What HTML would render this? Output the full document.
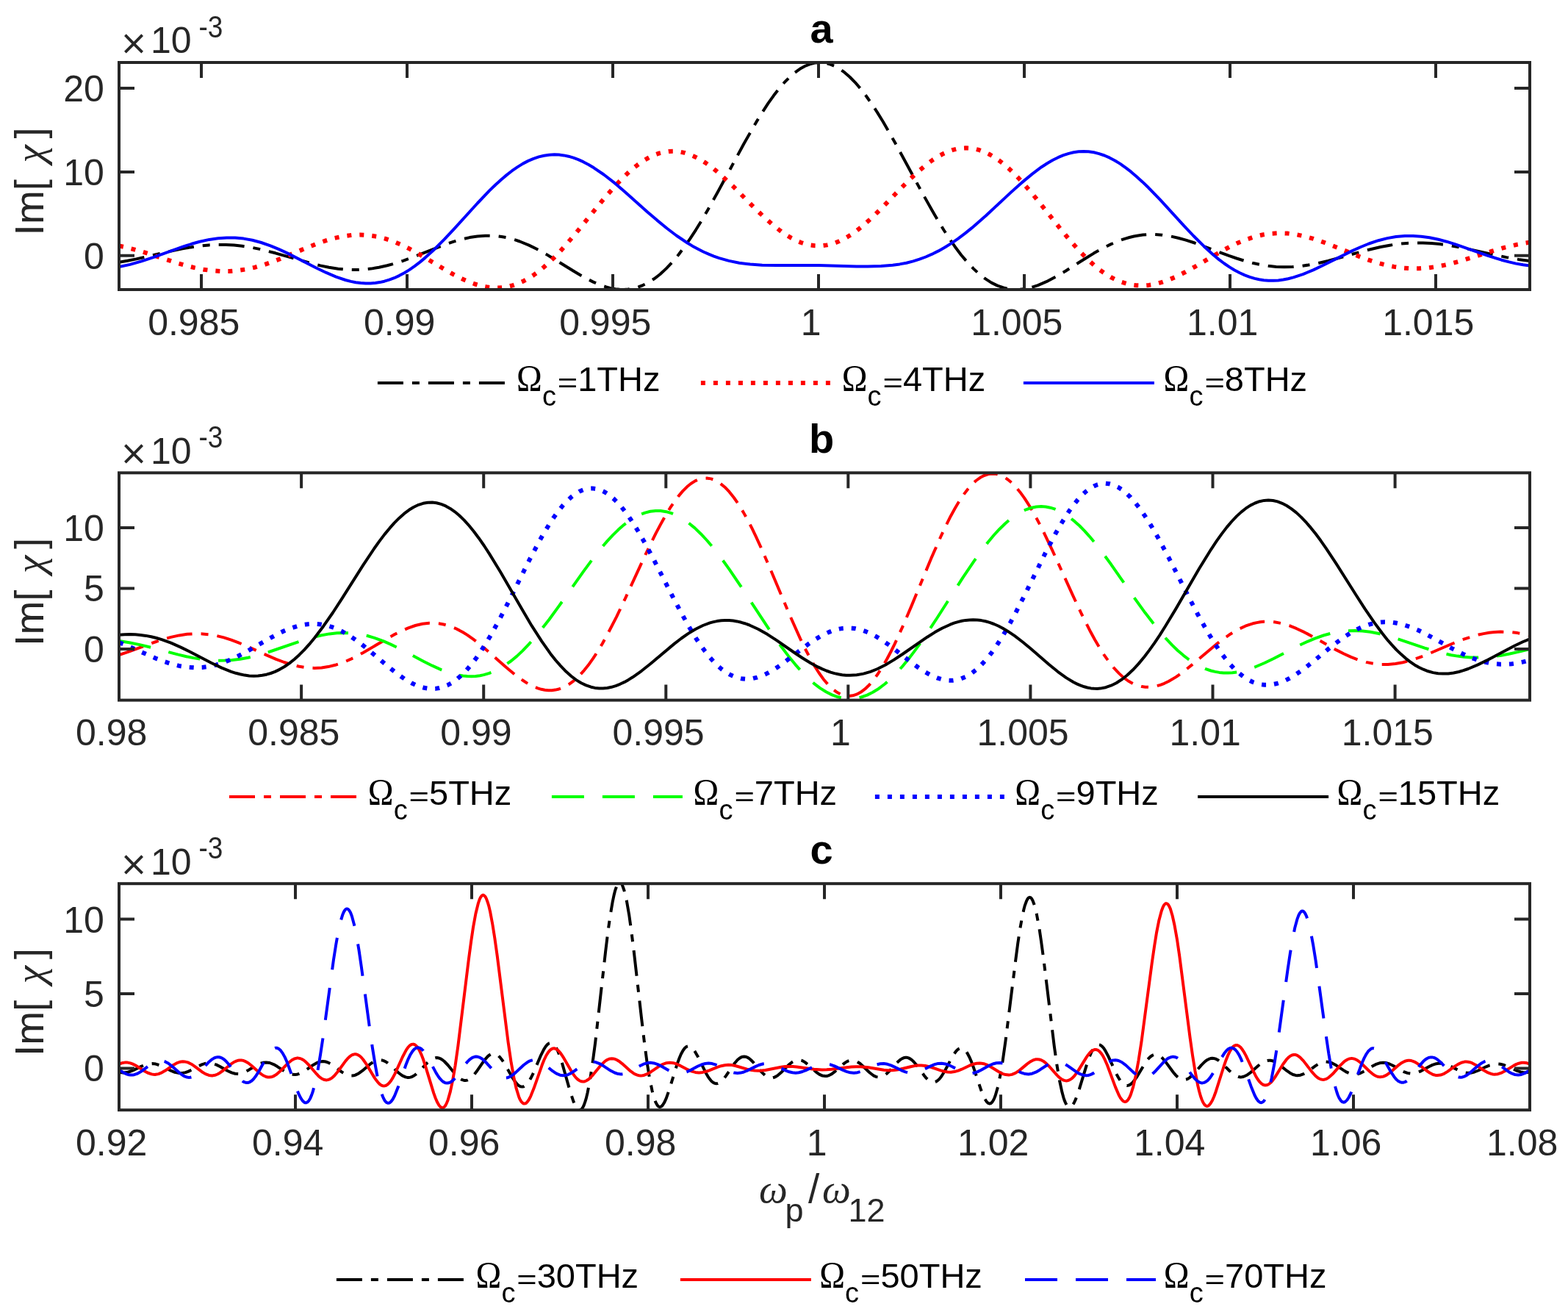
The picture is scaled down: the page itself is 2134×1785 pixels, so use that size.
<!DOCTYPE html>
<html><head><meta charset="utf-8"><style>html,body{margin:0;padding:0;background:#fff;}svg{display:block}</style></head><body>
<svg width="2134" height="1785" viewBox="0 0 2134 1785">
<rect width="100%" height="100%" fill="#fff"/>
<clipPath id="cpa"><rect x="162" y="85" width="1920" height="309"/></clipPath>
<g clip-path="url(#cpa)" fill="none" stroke-linejoin="round">
<path d="M162.0,356.7 173.5,354.8 185.5,352.4 236.4,340.8 248.4,338.4 259.5,336.4 272.4,334.5 284.4,333.4 296.0,332.9 307.5,332.9 318.5,333.5 329.6,334.7 341.1,336.5 353.1,338.9 374.7,344.3 423.7,358.4 436.1,361.4 447.7,363.8 460.2,365.7 471.7,366.8 483.2,367.1 494.2,366.7 504.8,365.6 515.8,363.8 526.9,361.3 538.4,358.1 548.5,354.8 559.1,351.0 605.6,332.8 617.6,328.7 628.2,325.7 639.2,323.1 649.8,321.5 660.4,320.7 670.4,320.8 676.7,321.2 682.5,322.0 688.7,323.1 694.9,324.6 701.2,326.4 707.4,328.5 719.9,333.6 730.9,339.0 743.4,345.9 781.4,369.3 794.3,376.9 807.3,383.6 818.8,388.4 825.0,390.4 831.3,392.1 837.5,393.2 843.3,393.8 849.1,393.9 854.8,393.6 860.6,392.7 865.9,391.4 874.0,388.5 882.2,384.5 890.3,379.3 898.5,373.0 906.7,365.4 914.8,356.8 923.5,346.5 932.1,335.0 939.3,324.6 947.0,312.8 954.7,300.3 962.8,286.4 977.7,259.7 1012.3,195.8 1029.1,166.4 1037.3,153.1 1045.4,140.6 1053.1,129.8 1060.3,120.5 1067.5,112.2 1074.7,104.9 1081.9,98.6 1088.6,93.8 1095.4,90.0 1102.1,87.3 1108.8,85.6 1115.5,85.0 1122.2,85.6 1129.0,87.2 1135.7,89.8 1142.9,93.9 1149.6,98.7 1156.8,105.0 1164.0,112.3 1171.2,120.7 1178.4,130.0 1186.1,140.9 1193.8,152.6 1201.9,165.8 1219.2,196.1 1253.8,260.0 1268.7,286.6 1276.8,300.5 1284.5,313.0 1292.2,324.8 1299.4,335.2 1308.0,346.7 1316.7,357.0 1324.9,365.6 1333.0,373.1 1341.2,379.4 1349.3,384.6 1357.5,388.6 1365.7,391.4 1370.9,392.7 1376.7,393.5 1382.5,393.9 1388.2,393.7 1394.0,393.1 1400.2,391.9 1406.5,390.2 1412.7,388.1 1424.2,383.2 1437.2,376.4 1450.2,368.7 1477.0,351.7 1488.6,344.6 1500.6,337.9 1511.6,332.4 1524.6,327.0 1530.8,324.8 1537.1,323.0 1543.3,321.5 1549.1,320.5 1555.3,319.6 1561.5,319.2 1571.6,319.0 1581.7,319.7 1592.3,321.3 1603.3,323.7 1613.9,326.6 1625.9,330.5 1672.5,347.9 1683.0,351.5 1693.1,354.7 1704.6,357.8 1715.7,360.2 1726.2,361.8 1736.8,362.9 1747.8,363.3 1759.4,363.0 1770.9,362.0 1782.9,360.2 1794.4,358.0 1807.4,355.0 1856.8,341.3 1878.9,336.0 1891.4,333.7 1902.9,332.0 1914.4,330.9 1925.5,330.4 1936.5,330.4 1948.0,331.0 1959.6,332.1 1972.1,333.8 1994.1,337.9 2034.5,346.8 2050.3,350.1 2066.6,352.9 2082.0,354.9" stroke="#000" stroke-width="4" stroke-dasharray="35 12 10 12"/>
<path d="M162.0,334.5 174.5,337.2 188.4,341.0 202.8,345.4 241.2,357.9 253.2,361.3 264.3,364.1 277.2,366.7 289.2,368.3 300.8,369.1 312.3,369.0 323.3,368.1 334.8,366.4 346.4,363.9 358.4,360.5 368.9,356.9 380.5,352.5 417.4,337.1 430.4,331.9 443.4,327.4 454.9,324.0 467.4,321.3 478.9,319.8 490.4,319.4 501.9,320.1 513.0,321.8 524.0,324.6 535.1,328.3 547.1,333.4 557.1,338.4 568.7,344.7 604.2,365.9 616.7,373.1 629.2,379.5 640.2,384.2 646.4,386.5 652.2,388.2 658.0,389.6 663.2,390.6 668.5,391.2 673.8,391.5 679.1,391.5 684.4,391.0 691.6,389.9 698.3,388.1 705.0,385.7 711.7,382.8 718.5,379.1 725.7,374.6 732.9,369.4 740.1,363.5 746.8,357.5 754.0,350.6 761.7,342.6 769.4,334.1 784.7,316.1 813.5,280.6 825.0,266.7 837.5,252.6 848.6,241.1 855.3,234.7 861.5,229.2 867.8,224.3 874.0,219.8 880.3,216.0 886.0,212.9 891.8,210.4 897.5,208.4 904.3,206.8 911.0,205.9 917.7,205.8 924.9,206.5 931.6,207.9 938.8,210.3 946.0,213.4 953.2,217.2 960.0,221.4 967.2,226.5 974.4,232.2 982.0,238.8 997.4,253.2 1026.7,282.7 1038.7,294.3 1051.7,305.9 1063.2,315.0 1070.4,319.9 1077.1,323.9 1083.8,327.4 1090.1,330.0 1096.3,332.0 1102.6,333.4 1108.8,334.3 1115.0,334.5 1120.3,334.1 1125.6,333.4 1130.9,332.2 1136.6,330.4 1141.9,328.3 1147.7,325.5 1153.4,322.3 1159.2,318.7 1165.5,314.2 1171.7,309.4 1185.1,297.7 1199.5,283.6 1227.4,254.9 1239.4,242.9 1251.9,231.4 1263.4,222.0 1270.1,217.1 1276.8,212.9 1283.6,209.2 1289.8,206.4 1296.0,204.2 1302.3,202.6 1308.5,201.6 1314.3,201.3 1320.5,201.6 1326.8,202.6 1333.0,204.2 1339.7,206.7 1346.0,209.7 1352.7,213.6 1359.4,218.2 1366.1,223.4 1372.9,229.2 1380.1,236.0 1387.3,243.5 1394.9,251.9 1410.8,270.7 1442.0,309.8 1455.0,325.6 1468.9,341.3 1481.8,354.4 1489.5,361.3 1497.2,367.5 1504.4,372.6 1511.6,377.0 1518.8,380.7 1526.0,383.7 1533.2,385.9 1540.4,387.5 1546.2,388.2 1551.9,388.5 1557.7,388.4 1563.5,387.9 1569.2,387.0 1575.5,385.6 1581.7,383.9 1588.0,381.7 1600.0,376.8 1612.9,370.3 1625.9,363.1 1661.9,342.1 1673.4,335.9 1683.5,331.0 1695.5,326.1 1707.0,322.2 1718.1,319.5 1729.1,317.8 1740.6,317.2 1752.2,317.6 1763.7,319.0 1776.2,321.7 1787.7,324.9 1800.6,329.3 1813.6,334.3 1851.1,349.5 1862.6,353.7 1873.1,357.1 1885.6,360.5 1897.2,362.9 1908.7,364.5 1920.2,365.3 1931.2,365.3 1942.8,364.5 1954.3,362.9 1966.3,360.6 1976.9,358.1 1988.9,354.8 2030.6,341.7 2047.4,336.8 2065.2,332.6 2073.8,331.0 2082.0,329.8" stroke="#f00" stroke-width="6" stroke-dasharray="6 11"/>
<path d="M162.0,363.1 176.9,359.9 192.7,355.3 208.6,350.1 248.9,335.6 260.9,331.8 271.9,328.7 284.9,325.9 296.9,324.2 308.4,323.4 320.0,323.5 331.5,324.6 343.5,326.8 355.5,330.0 368.0,334.3 379.0,338.9 391.0,344.4 429.4,364.0 443.4,370.7 457.3,376.6 470.2,381.0 477.4,382.9 484.2,384.2 490.9,385.1 497.6,385.6 504.3,385.5 510.6,385.0 516.8,384.1 523.1,382.7 529.8,380.7 536.5,378.2 543.2,375.1 550.4,371.2 557.1,367.1 564.3,362.1 571.5,356.6 578.7,350.6 591.2,339.2 605.2,325.2 618.1,311.3 649.8,276.5 666.1,259.4 674.3,251.5 682.0,244.5 689.2,238.4 696.4,232.7 704.1,227.4 711.7,222.6 718.9,218.9 726.1,215.8 733.3,213.4 740.5,211.7 747.3,210.7 754.5,210.3 760.7,210.6 767.4,211.4 773.7,212.7 780.4,214.7 787.1,217.2 793.8,220.2 801.0,224.0 808.2,228.3 821.7,237.5 836.1,248.7 851.0,261.4 881.2,288.4 894.2,299.6 908.1,311.0 920.6,320.5 935.5,330.5 942.7,334.9 949.9,338.8 957.1,342.5 964.3,345.7 971.5,348.6 978.7,351.1 992.1,354.9 1006.1,357.7 1020.9,359.6 1037.3,360.7 1056.9,361.1 1114.1,361.0 1165.9,362.4 1180.8,362.6 1199.1,362.1 1214.9,360.8 1224.5,359.4 1233.6,357.7 1242.8,355.4 1251.4,352.7 1260.0,349.5 1268.7,345.7 1277.3,341.4 1286.0,336.5 1294.6,331.1 1303.7,324.8 1313.3,317.6 1322.9,309.9 1341.7,293.5 1376.2,261.4 1390.1,248.9 1404.6,236.9 1417.5,227.2 1425.2,222.2 1432.9,217.8 1440.1,214.2 1447.3,211.2 1454.5,208.9 1461.2,207.3 1467.9,206.3 1474.6,206.0 1481.4,206.3 1488.6,207.3 1495.8,209.1 1503.0,211.5 1510.2,214.7 1517.4,218.5 1524.6,222.9 1532.3,228.3 1539.5,233.9 1547.1,240.4 1554.8,247.4 1563.0,255.3 1579.3,272.2 1611.5,307.3 1624.4,321.0 1638.4,334.9 1651.3,346.7 1659.0,353.1 1666.2,358.5 1673.4,363.4 1680.1,367.5 1687.3,371.3 1694.1,374.4 1700.8,376.9 1707.5,378.9 1713.7,380.3 1720.0,381.2 1726.2,381.7 1733.0,381.8 1739.7,381.4 1746.4,380.5 1753.1,379.2 1760.3,377.4 1773.3,373.1 1787.2,367.4 1801.1,360.8 1840.0,341.4 1852.0,336.0 1863.1,331.5 1876.0,327.2 1888.0,324.1 1900.0,322.0 1912.0,321.0 1923.1,320.9 1934.1,321.7 1945.6,323.3 1957.6,325.8 1968.7,328.7 1980.7,332.4 2024.9,347.8 2043.6,353.7 2053.7,356.4 2063.3,358.6 2072.9,360.3 2082.0,361.6" stroke="#00f" stroke-width="4"/>
</g>
<rect x="162" y="85" width="1920" height="309.0" fill="none" stroke="#262626" stroke-width="4" stroke-linejoin="miter"/>
<path d="M274.0,394 v-21 M274.0,85 v21 M554.0,394 v-21 M554.0,85 v21 M834.0,394 v-21 M834.0,85 v21 M1114.0,394 v-21 M1114.0,85 v21 M1394.0,394 v-21 M1394.0,85 v21 M1674.0,394 v-21 M1674.0,85 v21 M1954.0,394 v-21 M1954.0,85 v21 M162,347.8 h21 M2082,347.8 h-21 M162,233.9 h21 M2082,233.9 h-21 M162,120.0 h21 M2082,120.0 h-21" stroke="#262626" stroke-width="4" fill="none"/>
<text x="263.7" y="455.8" font-family="Liberation Sans, Arial, Helvetica, sans-serif" font-size="50" fill="#262626" text-anchor="middle">0.985</text>
<text x="543.7" y="455.8" font-family="Liberation Sans, Arial, Helvetica, sans-serif" font-size="50" fill="#262626" text-anchor="middle">0.99</text>
<text x="823.7" y="455.8" font-family="Liberation Sans, Arial, Helvetica, sans-serif" font-size="50" fill="#262626" text-anchor="middle">0.995</text>
<text x="1103.7" y="455.8" font-family="Liberation Sans, Arial, Helvetica, sans-serif" font-size="50" fill="#262626" text-anchor="middle">1</text>
<text x="1383.7" y="455.8" font-family="Liberation Sans, Arial, Helvetica, sans-serif" font-size="50" fill="#262626" text-anchor="middle">1.005</text>
<text x="1663.7" y="455.8" font-family="Liberation Sans, Arial, Helvetica, sans-serif" font-size="50" fill="#262626" text-anchor="middle">1.01</text>
<text x="1943.7" y="455.8" font-family="Liberation Sans, Arial, Helvetica, sans-serif" font-size="50" fill="#262626" text-anchor="middle">1.015</text>
<text x="141.8" y="365.7" font-family="Liberation Sans, Arial, Helvetica, sans-serif" font-size="50" fill="#262626" text-anchor="end">0</text>
<text x="141.8" y="251.8" font-family="Liberation Sans, Arial, Helvetica, sans-serif" font-size="50" fill="#262626" text-anchor="end">10</text>
<text x="141.8" y="137.9" font-family="Liberation Sans, Arial, Helvetica, sans-serif" font-size="50" fill="#262626" text-anchor="end">20</text>
<text x="162.7" y="73.5" font-family="DejaVu Sans, sans-serif" font-size="46" fill="#262626">×</text>
<text x="205" y="72.4" font-family="Liberation Sans, Arial, Helvetica, sans-serif" font-size="50" fill="#262626">10</text>
<text transform="translate(270.4,51.0) scale(0.86,1)" font-family="Liberation Sans, Arial, Helvetica, sans-serif" font-size="43" fill="#262626">-3</text>
<text x="1118" y="58.0" font-family="Liberation Sans, Arial, Helvetica, sans-serif" font-size="56" font-weight="bold" fill="#000" text-anchor="middle">a</text>
<g transform="translate(59,320.4) rotate(-90)" fill="#262626"><text x="0" y="0" font-family="Liberation Sans, Arial, Helvetica, sans-serif" font-size="55">Im[</text><text x="98.8" y="0" font-family="Liberation Serif, Times New Roman, serif" font-style="italic" font-size="55">χ</text><text x="131.9" y="0" font-family="Liberation Sans, Arial, Helvetica, sans-serif" font-size="55">]</text></g>
<path d="M513.9,521 h178" stroke="#000" stroke-width="4" fill="none" stroke-dasharray="35 12 10 12"/>
<text transform="translate(703.0,530.8) scale(0.935,1)" font-family="Liberation Serif, Times New Roman, serif" font-size="50" fill="#000">Ω</text>
<text x="737.9" y="552.3" font-family="Liberation Sans, Arial, Helvetica, sans-serif" font-size="38" fill="#000">c</text>
<text transform="translate(758.8,533.0) scale(1,0.8)" font-family="Liberation Sans, Arial, Helvetica, sans-serif" font-size="47" fill="#000">=</text>
<text x="786.2" y="531.8" font-family="Liberation Sans, Arial, Helvetica, sans-serif" font-size="47" fill="#000">1THz</text>
<path d="M953.9,521 h178" stroke="#f00" stroke-width="6" fill="none" stroke-dasharray="6 11"/>
<text transform="translate(1145.7,530.8) scale(0.935,1)" font-family="Liberation Serif, Times New Roman, serif" font-size="50" fill="#000">Ω</text>
<text x="1180.6" y="552.3" font-family="Liberation Sans, Arial, Helvetica, sans-serif" font-size="38" fill="#000">c</text>
<text transform="translate(1201.5,533.0) scale(1,0.8)" font-family="Liberation Sans, Arial, Helvetica, sans-serif" font-size="47" fill="#000">=</text>
<text x="1228.9" y="531.8" font-family="Liberation Sans, Arial, Helvetica, sans-serif" font-size="47" fill="#000">4THz</text>
<path d="M1392.9,521 h178" stroke="#00f" stroke-width="4" fill="none"/>
<text transform="translate(1583.6,530.8) scale(0.935,1)" font-family="Liberation Serif, Times New Roman, serif" font-size="50" fill="#000">Ω</text>
<text x="1618.5" y="552.3" font-family="Liberation Sans, Arial, Helvetica, sans-serif" font-size="38" fill="#000">c</text>
<text transform="translate(1639.4,533.0) scale(1,0.8)" font-family="Liberation Sans, Arial, Helvetica, sans-serif" font-size="47" fill="#000">=</text>
<text x="1666.8" y="531.8" font-family="Liberation Sans, Arial, Helvetica, sans-serif" font-size="47" fill="#000">8THz</text>
<clipPath id="cpb"><rect x="162" y="643.3" width="1920" height="309.30000000000007"/></clipPath>
<g clip-path="url(#cpb)" fill="none" stroke-linejoin="round">
<path d="M162.0,891.0 175.9,886.3 212.4,873.0 223.0,869.5 232.6,866.9 244.1,864.4 254.7,862.8 265.2,862.2 275.8,862.4 284.9,863.3 294.5,864.9 304.6,867.4 314.7,870.6 323.3,873.8 332.9,877.8 364.1,891.9 375.7,896.8 386.7,901.0 396.8,904.3 407.3,906.8 417.9,908.4 428.0,908.9 437.6,908.5 446.7,907.1 456.3,904.8 466.4,901.5 476.5,897.2 485.1,893.0 494.7,887.8 525.0,869.9 535.5,863.9 546.1,858.5 555.7,854.3 565.3,851.0 574.9,848.8 584.0,847.8 593.1,847.9 598.4,848.5 603.7,849.5 609.0,850.9 614.3,852.7 619.6,854.8 624.8,857.4 630.1,860.3 635.9,863.9 645.5,870.7 656.0,879.0 666.1,887.7 688.7,907.8 700.2,917.4 711.3,925.5 716.5,928.9 721.3,931.7 726.6,934.3 731.9,936.4 736.7,937.8 741.5,938.8 746.3,939.3 751.1,939.2 755.9,938.6 760.7,937.5 767.4,934.9 774.2,931.1 780.4,926.6 787.1,920.6 793.8,913.4 800.6,905.1 807.3,895.7 814.0,885.3 819.8,875.7 826.0,864.5 839.0,839.3 851.0,814.1 878.8,753.8 892.7,725.4 899.5,712.6 905.7,701.5 911.9,691.2 917.7,682.6 923.5,674.9 929.2,668.1 935.0,662.3 940.3,658.0 946.0,654.4 951.3,652.1 956.6,650.8 961.9,650.6 964.8,650.9 967.6,651.4 970.5,652.3 973.9,653.8 976.8,655.4 980.1,657.6 986.4,662.7 992.6,669.2 998.8,677.0 1005.1,686.1 1011.8,697.1 1017.1,706.6 1022.9,717.7 1029.1,730.6 1035.3,744.1 1047.3,771.6 1075.2,837.8 1089.1,868.9 1095.8,882.7 1102.6,895.5 1108.8,906.4 1114.6,915.5 1120.8,924.2 1126.6,931.0 1132.3,936.7 1138.1,941.2 1143.8,944.4 1146.7,945.5 1149.6,946.3 1152.5,946.8 1155.4,946.9 1160.6,946.3 1165.9,944.7 1171.7,941.6 1177.5,937.2 1183.2,931.7 1189.0,924.9 1194.7,917.0 1201.0,907.3 1207.2,896.5 1212.5,886.5 1217.8,875.9 1229.3,850.7 1240.3,824.9 1267.2,759.9 1280.7,729.3 1287.4,715.1 1293.6,702.7 1299.9,691.3 1305.6,681.7 1311.4,673.0 1317.2,665.5 1322.9,659.0 1328.2,654.0 1334.0,649.8 1339.3,647.0 1345.0,645.1 1350.3,644.4 1355.6,644.8 1360.9,646.3 1366.1,648.8 1371.4,652.2 1376.7,656.6 1382.5,662.5 1388.2,669.4 1394.0,677.4 1399.7,686.2 1406.0,696.6 1412.2,708.0 1419.0,721.0 1432.4,749.1 1459.8,809.4 1471.8,835.0 1484.3,859.8 1490.0,870.3 1495.8,880.2 1502.5,890.8 1509.2,900.3 1515.9,908.7 1522.7,915.9 1528.9,921.6 1535.6,926.5 1542.3,930.3 1549.1,932.9 1553.9,934.1 1558.7,934.7 1563.5,934.8 1568.8,934.4 1574.0,933.4 1579.3,931.8 1584.6,929.8 1590.4,927.0 1600.4,921.1 1611.5,913.2 1623.0,903.9 1655.2,876.7 1665.3,869.0 1674.4,862.7 1684.9,856.4 1695.0,851.7 1700.3,849.8 1705.1,848.3 1710.4,847.1 1715.2,846.3 1720.0,845.8 1724.8,845.7 1734.4,846.3 1744.5,848.2 1754.6,851.2 1764.6,855.2 1775.7,860.4 1786.7,866.3 1818.9,884.4 1829.0,889.5 1838.6,893.9 1849.1,897.9 1859.2,900.9 1869.3,902.9 1879.4,903.9 1889.0,903.9 1899.1,903.0 1909.2,901.2 1920.2,898.4 1929.8,895.2 1939.9,891.4 1975.9,876.0 1990.3,870.3 2005.2,865.4 2012.4,863.5 2019.1,862.1 2026.8,860.8 2034.5,860.0 2042.2,859.6 2049.8,859.7 2057.5,860.2 2065.2,861.1 2073.4,862.6 2082.0,864.5" stroke="#f00" stroke-width="4" stroke-dasharray="35 12 10 12"/>
<path d="M162.0,872.1 175.9,874.2 191.3,877.4 205.7,880.9 242.7,890.6 253.7,893.2 263.3,895.1 274.8,897.0 285.4,898.1 296.0,898.7 306.0,898.6 316.1,898.0 326.7,896.7 337.7,894.7 348.8,892.1 358.4,889.4 368.9,886.0 414.5,870.4 426.1,867.0 436.6,864.5 448.2,862.4 458.7,861.2 469.3,860.9 479.4,861.4 489.4,862.8 500.0,865.0 511.0,868.3 522.1,872.4 531.7,876.6 542.3,881.7 576.3,899.7 588.3,905.7 600.8,911.3 611.9,915.3 618.1,917.1 624.4,918.5 630.1,919.5 635.9,920.0 641.6,920.2 647.4,919.9 653.2,919.2 658.4,918.1 666.1,915.8 673.3,912.9 680.5,909.3 688.2,904.5 695.9,899.0 703.6,892.6 711.3,885.4 719.4,876.9 726.1,869.4 732.9,861.4 747.3,843.0 761.2,823.9 794.3,777.1 810.6,755.2 818.8,745.1 826.5,736.1 834.2,727.9 841.4,720.8 849.1,714.1 856.3,708.7 863.5,704.1 870.7,700.4 877.9,697.6 885.1,695.8 892.3,694.9 899.0,695.0 906.7,696.2 914.3,698.4 922.0,701.8 929.7,706.2 937.4,711.6 945.6,718.4 953.7,726.2 962.4,735.5 969.6,744.0 976.8,753.0 984.4,763.3 992.6,774.7 1007.5,796.6 1044.5,852.8 1054.5,867.5 1063.7,880.3 1073.3,892.9 1082.4,904.1 1091.0,913.8 1099.2,922.1 1107.8,929.8 1116.0,936.1 1124.2,941.3 1132.3,945.4 1140.5,948.3 1148.6,950.1 1156.8,950.7 1164.5,950.1 1172.2,948.5 1180.3,945.6 1188.0,941.8 1196.2,936.7 1204.3,930.5 1212.5,923.2 1220.7,915.0 1229.3,905.3 1236.5,896.5 1243.7,887.1 1251.4,876.6 1260.0,864.1 1274.9,841.5 1310.4,785.9 1328.2,759.6 1336.9,747.7 1345.0,737.2 1352.7,728.0 1360.4,719.7 1368.1,712.2 1375.3,706.0 1382.5,700.8 1389.2,696.7 1396.4,693.3 1403.1,691.0 1410.3,689.5 1417.0,689.1 1423.3,689.5 1429.5,690.7 1435.8,692.6 1442.5,695.5 1449.2,699.3 1455.9,704.0 1462.6,709.4 1469.4,715.5 1476.1,722.3 1482.8,729.8 1490.0,738.4 1497.2,747.5 1512.1,767.8 1543.8,813.3 1558.2,833.3 1573.1,852.6 1580.3,861.3 1587.0,868.9 1595.2,877.6 1602.8,885.0 1610.5,891.6 1618.2,897.5 1625.9,902.6 1633.1,906.6 1640.3,909.8 1648.0,912.5 1653.7,913.9 1659.5,914.9 1665.3,915.4 1671.5,915.5 1677.3,915.2 1683.5,914.4 1689.7,913.2 1696.5,911.5 1708.0,907.5 1720.9,902.0 1733.4,896.0 1768.5,877.9 1779.5,872.8 1789.6,868.6 1801.1,864.5 1812.2,861.5 1823.2,859.4 1833.8,858.2 1843.9,858.0 1854.4,858.5 1865.0,859.8 1876.5,862.0 1886.6,864.6 1897.6,867.8 1938.9,881.6 1956.2,886.8 1965.8,889.2 1974.9,891.2 1983.6,892.6 1992.2,893.7 2001.8,894.4 2011.9,894.5 2022.0,894.1 2032.5,893.2 2043.1,891.7 2054.6,889.5 2066.6,886.9 2082.0,883.0" stroke="#0f0" stroke-width="4" stroke-dasharray="44 25"/>
<path d="M162.0,874.0 175.4,879.6 211.5,895.5 222.5,899.7 232.1,902.9 243.6,905.9 254.2,907.6 264.7,908.4 275.3,908.0 284.4,906.8 294.0,904.6 304.1,901.4 314.2,897.3 323.3,893.0 332.9,888.0 363.7,870.3 375.2,864.0 385.7,858.8 395.8,854.7 406.4,851.4 411.7,850.2 416.9,849.4 422.2,848.9 427.0,848.7 431.8,848.9 436.6,849.4 441.4,850.2 446.2,851.3 451.0,852.8 456.3,854.7 466.4,859.5 477.0,865.7 486.1,872.0 496.2,879.8 527.9,906.5 538.9,915.4 550.4,923.6 560.5,929.5 566.3,932.2 572.0,934.3 577.3,935.8 582.6,936.7 587.9,937.1 592.7,936.9 597.9,936.0 602.8,934.7 609.5,932.0 615.7,928.5 622.0,924.0 628.7,918.1 634.9,911.8 641.6,903.9 648.4,895.0 655.1,885.2 666.6,866.5 679.6,843.1 691.6,819.8 719.9,763.0 733.8,736.7 740.5,724.8 747.3,713.7 753.5,704.2 759.3,696.2 765.5,688.3 771.3,682.0 777.5,676.2 783.3,671.8 789.0,668.4 794.8,666.0 800.6,664.7 806.3,664.4 811.6,665.1 817.4,666.8 823.1,669.5 828.9,673.3 834.6,678.0 840.4,683.7 846.2,690.2 852.4,698.2 858.2,706.4 863.9,715.3 870.2,725.6 876.4,736.5 889.4,760.6 915.3,811.4 925.9,831.5 937.4,852.2 947.5,868.8 953.7,878.1 959.5,886.1 965.2,893.4 971.0,899.9 976.8,905.7 982.5,910.7 988.3,914.8 993.6,917.9 998.4,920.2 1003.7,922.0 1008.9,923.2 1014.2,923.7 1019.5,923.6 1024.8,923.0 1030.5,921.6 1036.3,919.6 1041.1,917.6 1046.4,914.9 1052.1,911.6 1057.9,907.9 1069.4,899.6 1099.7,876.6 1109.3,870.1 1117.9,864.9 1128.0,860.1 1132.8,858.2 1137.6,856.7 1142.4,855.6 1146.7,854.9 1151.5,854.5 1155.8,854.5 1160.2,854.7 1164.5,855.3 1168.8,856.2 1173.6,857.5 1178.4,859.2 1183.2,861.2 1192.8,866.2 1201.0,871.3 1210.1,877.7 1239.4,900.5 1249.5,908.0 1259.1,914.3 1267.7,919.1 1276.4,922.7 1280.7,924.0 1285.0,925.0 1289.3,925.6 1293.2,925.8 1297.0,925.7 1300.8,925.2 1304.7,924.4 1308.0,923.4 1314.8,920.5 1321.5,916.6 1328.2,911.5 1334.9,905.2 1342.1,897.4 1348.9,888.9 1356.1,878.7 1361.8,869.8 1368.1,859.5 1374.8,847.7 1381.5,835.2 1394.0,810.7 1422.3,753.2 1436.2,726.6 1443.0,714.7 1449.2,704.4 1455.4,694.8 1461.2,686.9 1467.0,679.7 1472.2,674.0 1478.0,668.6 1483.3,664.6 1488.6,661.5 1493.9,659.3 1499.1,658.0 1504.4,657.6 1509.7,658.2 1515.5,659.8 1521.2,662.5 1527.0,666.2 1532.7,670.9 1538.5,676.5 1544.7,683.6 1551.0,691.6 1557.2,700.4 1563.5,710.0 1570.2,721.2 1576.9,733.0 1590.8,759.1 1618.7,813.9 1630.2,836.0 1642.7,858.4 1654.2,877.1 1660.9,887.0 1667.7,896.0 1673.9,903.6 1680.1,910.2 1686.4,916.0 1692.6,920.9 1698.9,924.9 1705.1,928.0 1710.4,929.9 1715.7,931.2 1720.9,931.8 1726.7,931.8 1732.0,931.2 1737.8,930.0 1743.5,928.2 1749.8,925.5 1755.0,922.8 1760.3,919.8 1772.3,911.7 1783.8,902.8 1807.4,883.4 1817.5,875.4 1828.0,867.7 1837.6,861.4 1848.7,855.4 1853.9,853.0 1859.2,851.0 1864.5,849.3 1869.8,848.0 1874.6,847.1 1879.9,846.5 1884.7,846.3 1889.5,846.4 1894.3,846.7 1899.6,847.5 1909.6,849.8 1920.7,853.5 1929.8,857.3 1940.4,862.5 1976.4,882.3 1990.8,889.7 1998.5,893.1 2005.7,896.0 2012.9,898.5 2019.6,900.4 2027.3,902.1 2034.9,903.2 2042.2,903.7 2049.8,903.7 2057.5,903.2 2065.2,902.1 2073.4,900.4 2082.0,898.1" stroke="#00f" stroke-width="6" stroke-dasharray="6 11"/>
<path d="M162.0,863.8 169.7,863.2 176.9,863.1 184.1,863.3 191.3,863.9 198.5,864.9 205.7,866.2 212.9,868.0 220.1,870.2 232.6,874.7 246.0,880.6 259.0,887.0 287.8,902.0 301.7,908.6 314.7,913.8 320.9,915.8 326.7,917.3 332.9,918.6 339.2,919.4 345.4,919.7 351.2,919.5 356.9,918.8 362.7,917.7 368.5,916.0 374.2,913.9 380.9,910.6 387.2,907.0 393.9,902.4 400.6,897.0 407.3,890.9 414.1,884.1 420.8,876.7 428.0,868.0 440.0,852.2 453.0,833.5 465.4,814.3 494.2,768.9 509.1,746.5 516.3,736.4 523.5,726.9 530.3,718.7 536.5,711.7 543.2,704.9 549.9,698.9 556.7,693.8 562.9,690.0 569.6,686.8 575.9,684.8 582.1,683.7 588.3,683.5 594.1,684.2 600.3,685.9 606.6,688.4 612.8,691.9 619.1,696.3 625.3,701.5 631.6,707.6 638.3,715.0 645.0,723.2 651.7,732.2 658.9,742.5 666.1,753.6 681.0,778.0 710.8,829.6 723.7,851.4 737.2,872.4 749.2,889.4 756.4,898.5 763.6,906.7 770.8,914.1 777.5,920.0 784.2,925.1 791.0,929.2 797.7,932.4 804.4,934.7 809.7,935.9 815.4,936.5 820.7,936.6 826.5,936.0 832.2,934.8 838.0,933.1 843.8,930.8 850.0,927.9 855.3,924.9 861.1,921.3 873.1,912.8 885.1,903.2 917.7,875.9 927.3,868.5 936.4,862.1 946.5,856.0 956.6,851.0 966.2,847.4 971.0,846.1 975.8,845.1 981.6,844.3 986.8,844.0 992.1,844.0 997.9,844.6 1003.2,845.4 1008.9,846.8 1014.7,848.5 1020.5,850.7 1032.0,856.0 1044.5,863.1 1056.9,871.2 1081.9,888.5 1092.5,895.5 1103.5,902.3 1113.1,907.4 1118.9,910.1 1124.6,912.5 1130.4,914.6 1135.7,916.1 1141.0,917.3 1146.2,918.2 1151.5,918.7 1156.8,918.8 1165.9,918.2 1175.1,916.6 1184.7,913.8 1194.3,910.0 1204.8,904.7 1216.3,897.9 1228.3,890.0 1262.0,866.7 1272.5,860.1 1282.1,854.8 1293.2,849.7 1298.4,847.7 1303.7,846.1 1309.0,844.8 1314.3,843.9 1319.6,843.4 1324.4,843.2 1330.1,843.5 1335.4,844.1 1341.2,845.3 1346.9,846.9 1352.7,849.0 1358.5,851.5 1364.7,854.7 1370.9,858.4 1381.0,865.2 1392.5,874.0 1403.1,882.8 1427.6,904.0 1439.6,913.8 1451.1,922.1 1461.2,928.2 1466.0,930.6 1470.8,932.6 1475.6,934.3 1479.9,935.5 1484.7,936.4 1489.1,936.8 1493.4,936.9 1497.7,936.6 1504.9,935.2 1512.1,932.7 1519.3,929.2 1527.0,924.2 1534.2,918.5 1541.9,911.3 1549.5,903.1 1557.7,893.3 1564.4,884.4 1571.2,874.9 1578.4,864.1 1586.0,852.0 1600.0,828.9 1632.1,773.5 1648.0,747.8 1655.7,736.2 1662.9,726.1 1669.6,717.4 1676.3,709.5 1683.0,702.4 1689.3,696.6 1695.5,691.7 1701.7,687.6 1708.0,684.5 1714.2,682.2 1720.5,680.9 1726.2,680.5 1732.5,681.0 1738.7,682.4 1745.0,684.8 1751.2,688.0 1757.4,692.1 1764.2,697.4 1770.9,703.6 1778.1,711.2 1784.3,718.4 1790.6,726.3 1797.3,735.3 1804.5,745.6 1818.4,766.6 1846.3,810.8 1857.8,828.6 1870.3,846.9 1881.3,861.8 1888.0,870.2 1894.3,877.4 1900.5,884.1 1906.8,890.1 1913.0,895.6 1918.8,900.1 1925.0,904.4 1930.8,907.7 1937.0,910.7 1943.7,913.3 1950.4,915.1 1957.2,916.2 1963.9,916.6 1971.1,916.4 1978.3,915.5 1985.5,914.0 1991.7,912.2 1998.0,910.0 2011.4,904.4 2024.9,897.8 2060.9,878.8 2071.9,873.5 2082.0,869.3" stroke="#000" stroke-width="4"/>
</g>
<rect x="162" y="643.3" width="1920" height="309.3" fill="none" stroke="#262626" stroke-width="4" stroke-linejoin="miter"/>
<path d="M162.0,952.6 v-21 M162.0,643.3 v21 M410.1,952.6 v-21 M410.1,643.3 v21 M658.2,952.6 v-21 M658.2,643.3 v21 M906.3,952.6 v-21 M906.3,643.3 v21 M1154.3,952.6 v-21 M1154.3,643.3 v21 M1402.4,952.6 v-21 M1402.4,643.3 v21 M1650.5,952.6 v-21 M1650.5,643.3 v21 M1898.6,952.6 v-21 M1898.6,643.3 v21 M162,882.9 h21 M2082,882.9 h-21 M162,800.5 h21 M2082,800.5 h-21 M162,718.1 h21 M2082,718.1 h-21" stroke="#262626" stroke-width="4" fill="none"/>
<text x="151.7" y="1014.4" font-family="Liberation Sans, Arial, Helvetica, sans-serif" font-size="50" fill="#262626" text-anchor="middle">0.98</text>
<text x="399.8" y="1014.4" font-family="Liberation Sans, Arial, Helvetica, sans-serif" font-size="50" fill="#262626" text-anchor="middle">0.985</text>
<text x="647.9" y="1014.4" font-family="Liberation Sans, Arial, Helvetica, sans-serif" font-size="50" fill="#262626" text-anchor="middle">0.99</text>
<text x="896.0" y="1014.4" font-family="Liberation Sans, Arial, Helvetica, sans-serif" font-size="50" fill="#262626" text-anchor="middle">0.995</text>
<text x="1144.0" y="1014.4" font-family="Liberation Sans, Arial, Helvetica, sans-serif" font-size="50" fill="#262626" text-anchor="middle">1</text>
<text x="1392.1" y="1014.4" font-family="Liberation Sans, Arial, Helvetica, sans-serif" font-size="50" fill="#262626" text-anchor="middle">1.005</text>
<text x="1640.2" y="1014.4" font-family="Liberation Sans, Arial, Helvetica, sans-serif" font-size="50" fill="#262626" text-anchor="middle">1.01</text>
<text x="1888.3" y="1014.4" font-family="Liberation Sans, Arial, Helvetica, sans-serif" font-size="50" fill="#262626" text-anchor="middle">1.015</text>
<text x="141.8" y="900.8" font-family="Liberation Sans, Arial, Helvetica, sans-serif" font-size="50" fill="#262626" text-anchor="end">0</text>
<text x="141.8" y="818.4" font-family="Liberation Sans, Arial, Helvetica, sans-serif" font-size="50" fill="#262626" text-anchor="end">5</text>
<text x="141.8" y="736.0" font-family="Liberation Sans, Arial, Helvetica, sans-serif" font-size="50" fill="#262626" text-anchor="end">10</text>
<text x="162.7" y="631.8" font-family="DejaVu Sans, sans-serif" font-size="46" fill="#262626">×</text>
<text x="205" y="630.7" font-family="Liberation Sans, Arial, Helvetica, sans-serif" font-size="50" fill="#262626">10</text>
<text transform="translate(270.4,609.3) scale(0.86,1)" font-family="Liberation Sans, Arial, Helvetica, sans-serif" font-size="43" fill="#262626">-3</text>
<text x="1118" y="616.3" font-family="Liberation Sans, Arial, Helvetica, sans-serif" font-size="56" font-weight="bold" fill="#000" text-anchor="middle">b</text>
<g transform="translate(59,878.9) rotate(-90)" fill="#262626"><text x="0" y="0" font-family="Liberation Sans, Arial, Helvetica, sans-serif" font-size="55">Im[</text><text x="98.8" y="0" font-family="Liberation Serif, Times New Roman, serif" font-style="italic" font-size="55">χ</text><text x="131.9" y="0" font-family="Liberation Sans, Arial, Helvetica, sans-serif" font-size="55">]</text></g>
<path d="M312.0,1084 h178" stroke="#f00" stroke-width="4" fill="none" stroke-dasharray="35 12 10 12"/>
<text transform="translate(500.8,1093.8) scale(0.935,1)" font-family="Liberation Serif, Times New Roman, serif" font-size="50" fill="#000">Ω</text>
<text x="535.7" y="1115.3" font-family="Liberation Sans, Arial, Helvetica, sans-serif" font-size="38" fill="#000">c</text>
<text transform="translate(556.6,1096.0) scale(1,0.8)" font-family="Liberation Sans, Arial, Helvetica, sans-serif" font-size="47" fill="#000">=</text>
<text x="584.0" y="1094.8" font-family="Liberation Sans, Arial, Helvetica, sans-serif" font-size="47" fill="#000">5THz</text>
<path d="M750.9,1084 h178" stroke="#0f0" stroke-width="4" fill="none" stroke-dasharray="44 25"/>
<text transform="translate(943.6,1093.8) scale(0.935,1)" font-family="Liberation Serif, Times New Roman, serif" font-size="50" fill="#000">Ω</text>
<text x="978.5" y="1115.3" font-family="Liberation Sans, Arial, Helvetica, sans-serif" font-size="38" fill="#000">c</text>
<text transform="translate(999.4,1096.0) scale(1,0.8)" font-family="Liberation Sans, Arial, Helvetica, sans-serif" font-size="47" fill="#000">=</text>
<text x="1026.8" y="1094.8" font-family="Liberation Sans, Arial, Helvetica, sans-serif" font-size="47" fill="#000">7THz</text>
<path d="M1190.9,1084 h178" stroke="#00f" stroke-width="6" fill="none" stroke-dasharray="6 11"/>
<text transform="translate(1381.3,1093.8) scale(0.935,1)" font-family="Liberation Serif, Times New Roman, serif" font-size="50" fill="#000">Ω</text>
<text x="1416.2" y="1115.3" font-family="Liberation Sans, Arial, Helvetica, sans-serif" font-size="38" fill="#000">c</text>
<text transform="translate(1437.1,1096.0) scale(1,0.8)" font-family="Liberation Sans, Arial, Helvetica, sans-serif" font-size="47" fill="#000">=</text>
<text x="1464.5" y="1094.8" font-family="Liberation Sans, Arial, Helvetica, sans-serif" font-size="47" fill="#000">9THz</text>
<path d="M1630.1,1084 h178" stroke="#000" stroke-width="4" fill="none"/>
<text transform="translate(1819.6,1093.8) scale(0.935,1)" font-family="Liberation Serif, Times New Roman, serif" font-size="50" fill="#000">Ω</text>
<text x="1854.5" y="1115.3" font-family="Liberation Sans, Arial, Helvetica, sans-serif" font-size="38" fill="#000">c</text>
<text transform="translate(1875.4,1096.0) scale(1,0.8)" font-family="Liberation Sans, Arial, Helvetica, sans-serif" font-size="47" fill="#000">=</text>
<text x="1902.8" y="1094.8" font-family="Liberation Sans, Arial, Helvetica, sans-serif" font-size="47" fill="#000">15THz</text>
<clipPath id="cpc"><rect x="162" y="1202.2" width="1920" height="308.0"/></clipPath>
<g clip-path="url(#cpc)" fill="none" stroke-linejoin="round">
<path d="M162.0,1458.7 165.4,1459.3 168.2,1459.4 171.6,1459.1 175.0,1458.5 181.2,1456.2 192.2,1450.9 197.0,1448.9 202.3,1447.5 207.1,1447.1 211.9,1447.6 217.2,1449.2 221.5,1451.1 232.6,1456.7 237.9,1458.8 243.1,1459.9 247.9,1459.9 252.3,1459.1 256.6,1457.6 260.9,1455.5 270.5,1450.3 275.3,1448.1 280.1,1446.7 284.4,1446.3 289.2,1446.9 294.5,1448.6 299.3,1451.0 309.9,1457.0 315.2,1459.4 320.0,1460.7 324.3,1460.9 329.1,1460.0 333.9,1458.2 338.2,1455.9 348.3,1449.7 353.6,1447.1 357.9,1445.8 362.2,1445.4 367.0,1446.0 372.3,1448.1 377.1,1450.8 387.2,1457.5 392.5,1460.2 397.3,1461.7 401.6,1462.0 404.0,1461.7 406.4,1461.1 411.2,1459.0 415.5,1456.4 426.1,1448.9 430.9,1446.2 435.2,1444.6 439.5,1444.0 441.9,1444.2 444.3,1444.8 446.7,1445.7 449.6,1447.1 454.4,1450.3 465.0,1458.4 470.2,1461.6 474.6,1463.2 477.0,1463.6 478.9,1463.6 481.3,1463.3 483.7,1462.6 488.5,1460.2 493.3,1456.7 503.8,1447.7 508.6,1444.5 513.0,1442.7 515.4,1442.2 517.3,1442.1 519.7,1442.4 522.1,1443.1 524.5,1444.2 527.4,1446.1 532.2,1450.0 542.3,1459.5 547.5,1463.4 551.9,1465.4 554.3,1465.9 556.2,1466.0 558.6,1465.6 561.0,1464.8 563.4,1463.5 566.3,1461.4 571.1,1457.0 581.1,1446.3 585.9,1442.2 588.3,1440.7 590.3,1439.8 592.7,1439.2 594.6,1439.1 597.0,1439.4 599.4,1440.3 601.8,1441.7 604.7,1444.0 609.5,1449.0 620.0,1461.9 624.8,1466.6 627.2,1468.3 629.2,1469.2 631.6,1469.9 633.5,1470.0 635.9,1469.6 638.3,1468.5 640.7,1466.8 643.6,1464.1 648.4,1458.1 658.9,1442.9 663.7,1437.4 666.1,1435.4 668.0,1434.3 670.0,1433.6 671.9,1433.4 673.8,1433.7 676.2,1434.8 678.6,1436.6 681.0,1439.1 683.4,1442.2 686.3,1446.6 696.9,1465.3 701.2,1471.9 703.6,1474.8 706.0,1476.9 708.4,1478.2 710.8,1478.6 712.7,1478.2 715.1,1476.8 717.5,1474.4 719.9,1471.2 722.3,1467.1 725.2,1461.4 735.7,1436.7 740.1,1427.9 742.5,1424.0 744.9,1421.1 747.3,1419.3 748.7,1418.9 749.7,1418.8 751.1,1419.2 752.1,1419.7 754.5,1421.8 756.9,1425.4 759.3,1430.2 762.2,1437.6 765.0,1446.4 775.6,1483.7 780.4,1498.4 782.8,1504.0 785.2,1508.0 786.6,1509.5 787.6,1510.1 789.0,1510.4 790.0,1510.2 791.9,1508.6 793.4,1506.4 794.8,1503.4 796.2,1499.4 797.7,1494.6 799.6,1486.7 803.0,1469.3 806.3,1447.5 810.2,1418.2 824.1,1294.8 827.4,1267.6 830.3,1246.9 833.7,1226.9 835.6,1217.8 837.0,1212.2 839.0,1206.4 840.4,1203.4 841.8,1201.6 843.3,1200.9 844.7,1201.4 846.2,1203.1 847.6,1206.0 849.5,1211.5 851.0,1217.0 852.9,1225.8 856.3,1245.4 859.1,1265.7 862.5,1292.5 873.1,1385.7 876.9,1417.7 880.7,1446.2 884.1,1467.1 887.5,1483.7 889.4,1491.2 890.8,1495.8 892.3,1499.5 894.2,1503.1 895.6,1504.9 896.6,1505.6 897.5,1505.9 898.5,1505.9 899.5,1505.6 900.4,1505.0 901.9,1503.5 904.3,1499.6 906.7,1494.3 911.0,1482.1 921.5,1448.0 924.4,1440.0 926.8,1434.3 929.7,1429.0 932.1,1425.8 934.5,1423.9 936.9,1423.3 938.8,1423.6 941.2,1425.1 943.6,1427.5 946.0,1430.9 950.4,1438.6 960.4,1459.2 963.3,1464.3 965.7,1467.8 968.1,1470.7 970.5,1472.7 972.9,1473.9 974.8,1474.3 976.8,1474.1 979.2,1473.1 981.6,1471.3 984.0,1469.0 988.3,1463.4 998.8,1447.7 1003.7,1442.0 1006.1,1440.0 1008.5,1438.5 1010.9,1437.7 1012.8,1437.5 1014.7,1437.7 1017.1,1438.6 1019.5,1440.0 1021.9,1442.0 1026.2,1446.4 1036.3,1458.4 1041.1,1462.9 1043.5,1464.6 1045.4,1465.5 1047.8,1466.2 1049.7,1466.4 1051.7,1466.3 1054.1,1465.6 1056.5,1464.4 1058.9,1462.8 1063.2,1459.1 1073.3,1448.9 1078.1,1445.0 1080.5,1443.6 1082.4,1442.7 1084.8,1442.1 1086.7,1442.0 1088.6,1442.2 1091.0,1442.8 1093.4,1443.9 1095.8,1445.4 1100.2,1448.8 1110.2,1458.1 1115.0,1461.6 1119.4,1463.6 1123.2,1464.1 1125.1,1464.0 1127.5,1463.4 1129.9,1462.3 1132.3,1460.9 1136.6,1457.6 1147.2,1448.1 1150.1,1445.9 1152.5,1444.4 1154.9,1443.3 1157.3,1442.6 1159.7,1442.4 1162.1,1442.7 1165.9,1444.1 1170.3,1446.8 1174.1,1450.2 1183.2,1459.0 1188.0,1462.8 1190.4,1464.2 1192.8,1465.1 1195.2,1465.5 1197.6,1465.5 1199.5,1465.1 1201.9,1464.1 1204.3,1462.6 1206.7,1460.7 1211.1,1456.5 1220.7,1445.9 1225.5,1441.6 1227.9,1440.1 1229.8,1439.3 1232.2,1438.8 1234.1,1438.8 1236.5,1439.4 1238.9,1440.6 1241.3,1442.4 1243.7,1444.7 1248.0,1449.8 1258.1,1463.7 1260.5,1466.6 1262.9,1469.0 1265.3,1470.8 1267.2,1471.8 1269.6,1472.4 1271.6,1472.3 1274.0,1471.5 1276.4,1469.9 1278.8,1467.6 1281.2,1464.5 1286.0,1456.8 1296.0,1437.9 1298.4,1434.0 1300.8,1430.7 1303.2,1428.1 1305.2,1426.8 1307.1,1426.0 1309.0,1426.0 1310.4,1426.4 1311.9,1427.3 1314.3,1429.7 1316.7,1433.2 1319.6,1438.7 1322.0,1444.4 1324.9,1452.2 1335.4,1483.6 1337.8,1489.7 1340.2,1494.8 1342.6,1498.6 1344.5,1500.6 1346.5,1501.5 1347.4,1501.5 1348.4,1501.1 1350.3,1499.5 1351.7,1497.3 1353.2,1494.4 1354.6,1490.7 1358.0,1479.0 1361.3,1463.0 1364.7,1443.0 1368.5,1416.3 1382.5,1304.2 1385.3,1282.9 1388.2,1263.8 1391.6,1245.3 1393.5,1236.8 1394.9,1231.6 1396.9,1226.2 1398.3,1223.3 1399.7,1221.5 1401.2,1220.8 1402.6,1221.2 1404.1,1222.7 1405.5,1225.3 1407.4,1230.3 1408.9,1235.3 1410.8,1243.5 1414.2,1261.6 1417.0,1280.5 1420.4,1305.5 1434.8,1423.4 1438.6,1450.2 1442.0,1470.0 1445.4,1485.8 1447.3,1492.8 1448.7,1497.1 1450.2,1500.6 1451.6,1503.2 1453.0,1505.0 1455.0,1506.2 1455.9,1506.3 1456.9,1506.1 1457.8,1505.5 1459.3,1504.2 1461.7,1500.5 1464.1,1495.3 1468.9,1481.7 1479.9,1445.5 1482.8,1437.5 1485.2,1431.9 1487.6,1427.3 1490.0,1424.0 1492.4,1421.9 1494.8,1421.2 1497.2,1421.6 1499.6,1423.3 1502.0,1425.9 1504.4,1429.6 1508.7,1437.8 1519.3,1460.9 1522.2,1466.3 1524.6,1470.1 1527.0,1473.1 1529.4,1475.3 1531.8,1476.6 1533.7,1477.0 1536.1,1476.6 1538.5,1475.4 1540.9,1473.4 1543.3,1470.7 1547.6,1464.5 1558.2,1446.9 1561.1,1442.8 1563.5,1439.8 1565.9,1437.5 1568.3,1435.8 1570.7,1434.9 1572.6,1434.6 1575.0,1435.0 1577.4,1436.0 1579.8,1437.6 1582.2,1439.8 1586.5,1444.9 1597.1,1459.2 1600.0,1462.6 1602.4,1465.0 1604.8,1466.9 1606.7,1468.0 1609.1,1468.8 1611.0,1469.1 1612.9,1469.0 1614.8,1468.5 1616.8,1467.6 1619.2,1466.1 1624.0,1461.8 1635.0,1449.1 1639.8,1444.4 1642.7,1442.2 1645.1,1440.9 1647.5,1440.1 1649.9,1439.8 1651.8,1440.0 1653.7,1440.4 1655.7,1441.2 1658.1,1442.6 1662.9,1446.4 1673.4,1457.0 1678.2,1461.2 1681.1,1463.1 1683.5,1464.3 1685.9,1465.1 1688.3,1465.4 1690.2,1465.3 1692.6,1464.8 1696.9,1462.8 1701.7,1459.4 1712.3,1450.0 1717.1,1446.3 1720.0,1444.6 1722.4,1443.5 1724.8,1442.9 1727.2,1442.7 1729.1,1442.8 1731.5,1443.2 1735.8,1445.0 1740.6,1448.2 1751.2,1456.7 1755.5,1459.7 1758.4,1461.3 1760.8,1462.3 1763.2,1462.9 1765.6,1463.2 1769.9,1462.7 1774.2,1461.1 1779.5,1458.0 1789.6,1450.6 1794.4,1447.5 1797.3,1446.1 1799.7,1445.2 1802.1,1444.7 1804.5,1444.4 1808.8,1444.9 1813.1,1446.4 1818.4,1449.3 1828.5,1456.1 1832.8,1458.7 1837.6,1460.7 1842.4,1461.7 1846.7,1461.4 1851.5,1460.0 1856.8,1457.4 1867.4,1450.8 1872.2,1448.2 1877.5,1446.3 1882.3,1445.7 1886.6,1446.1 1890.9,1447.5 1895.7,1449.7 1906.3,1455.9 1910.6,1458.1 1915.4,1459.9 1919.7,1460.6 1924.5,1460.4 1929.3,1459.1 1934.6,1456.8 1944.7,1451.2 1949.5,1448.9 1954.8,1447.2 1959.6,1446.6 1963.9,1446.9 1968.7,1448.2 1973.5,1450.3 1987.4,1457.3 1992.2,1459.0 1996.5,1459.7 2001.3,1459.7 2006.6,1458.5 2011.9,1456.5 2022.5,1451.3 2027.3,1449.3 2032.1,1447.9 2036.9,1447.3 2041.7,1447.7 2047.0,1449.0 2051.8,1450.9 2063.3,1456.3 2069.5,1458.4 2072.9,1459.0 2075.8,1459.2 2078.6,1459.1 2082.0,1458.6" stroke="#000" stroke-width="4" stroke-dasharray="35 12 10 12"/>
<path d="M162.0,1447.7 165.8,1446.3 169.7,1445.6 173.5,1445.6 177.4,1446.4 180.7,1447.6 184.1,1449.3 196.1,1456.9 200.9,1459.5 206.2,1461.4 208.6,1461.8 211.0,1461.9 213.4,1461.6 215.8,1461.1 220.6,1459.1 225.4,1456.3 235.9,1449.0 241.2,1446.1 244.1,1445.0 246.5,1444.5 248.9,1444.2 251.3,1444.4 255.6,1445.4 260.4,1447.7 264.7,1450.6 274.8,1458.2 279.6,1461.1 284.4,1462.9 288.8,1463.4 291.2,1463.1 293.6,1462.5 296.0,1461.5 298.8,1459.9 303.6,1456.5 313.7,1448.2 319.0,1444.7 321.4,1443.6 323.8,1442.8 326.2,1442.5 328.6,1442.5 331.0,1442.9 333.4,1443.8 338.2,1446.5 342.5,1450.0 352.6,1459.1 357.9,1463.0 362.2,1465.0 364.6,1465.5 366.5,1465.6 368.9,1465.3 371.3,1464.6 373.7,1463.4 376.6,1461.5 381.4,1457.3 392.0,1446.5 397.3,1442.3 399.7,1440.9 401.6,1440.2 404.0,1439.6 405.9,1439.6 408.3,1440.0 410.7,1440.9 413.1,1442.3 416.0,1444.6 420.8,1449.5 430.9,1461.2 433.7,1464.2 436.1,1466.2 438.5,1467.8 440.5,1468.7 442.9,1469.3 444.8,1469.4 447.2,1468.9 449.6,1467.9 452.0,1466.3 454.9,1463.7 459.7,1458.0 470.2,1443.6 473.1,1440.2 475.5,1437.9 477.9,1436.0 479.8,1435.0 482.2,1434.3 484.2,1434.3 486.6,1434.9 489.0,1436.2 491.4,1438.2 494.2,1441.5 499.0,1448.4 509.6,1466.1 512.0,1469.6 514.4,1472.6 516.8,1475.0 518.7,1476.3 521.1,1477.3 523.1,1477.4 525.0,1477.0 527.4,1475.6 529.8,1473.3 532.2,1470.2 534.6,1466.4 537.5,1460.9 548.0,1437.7 552.8,1428.6 555.2,1425.1 557.6,1422.5 560.0,1421.0 562.4,1420.6 563.9,1421.0 565.3,1421.8 567.7,1424.2 570.6,1428.6 573.5,1434.8 575.9,1441.0 578.7,1449.5 590.3,1487.3 592.7,1494.0 595.1,1499.6 597.5,1503.8 599.4,1506.0 601.3,1507.1 602.3,1507.2 603.2,1507.0 605.2,1505.5 606.6,1503.5 608.0,1500.6 609.5,1497.0 612.8,1485.4 616.2,1469.4 619.6,1449.6 623.4,1422.8 637.8,1305.7 641.2,1280.6 644.0,1261.6 647.4,1243.0 650.8,1229.2 652.7,1223.6 654.1,1220.7 656.0,1218.3 657.5,1217.7 658.9,1218.3 660.4,1219.8 661.8,1222.4 663.7,1227.5 665.2,1232.4 667.1,1240.4 670.4,1258.0 673.3,1276.2 676.7,1300.4 691.6,1417.9 695.4,1443.9 699.3,1465.7 702.6,1480.7 706.0,1491.7 707.4,1495.2 709.3,1498.6 711.3,1500.7 713.2,1501.6 715.1,1501.3 716.1,1500.7 717.5,1499.4 719.9,1496.0 722.3,1491.3 726.6,1480.6 737.7,1449.1 740.5,1442.0 743.4,1436.0 746.3,1431.4 748.7,1428.7 751.1,1427.0 752.5,1426.4 754.0,1426.3 755.9,1426.7 758.3,1428.0 760.7,1430.2 763.1,1433.1 767.4,1439.7 778.0,1458.1 780.9,1462.5 783.3,1465.6 786.2,1468.5 788.6,1470.2 791.0,1471.3 793.4,1471.6 795.3,1471.4 797.7,1470.5 800.1,1469.1 802.5,1467.2 807.3,1462.1 817.8,1449.3 823.1,1444.1 825.5,1442.4 827.9,1441.2 830.3,1440.4 832.7,1440.2 835.1,1440.4 837.5,1441.1 839.9,1442.2 842.3,1443.7 846.7,1447.1 857.2,1456.6 862.5,1460.4 864.9,1461.7 867.3,1462.6 869.7,1463.2 872.1,1463.4 874.5,1463.2 876.9,1462.7 881.7,1460.8 886.0,1458.2 897.1,1450.7 902.3,1447.8 907.1,1446.2 911.5,1445.7 916.3,1446.2 921.1,1447.7 925.9,1449.9 936.4,1455.4 941.7,1457.6 946.5,1458.9 951.3,1459.4 956.1,1458.9 960.9,1457.8 965.2,1456.3 976.3,1451.8 981.6,1450.2 986.4,1449.2 991.2,1448.8 996.0,1449.1 1000.8,1450.0 1016.6,1454.6 1021.9,1455.8 1027.2,1456.6 1032.0,1456.8 1036.8,1456.6 1041.6,1456.0 1063.2,1451.7 1068.5,1451.1 1073.7,1450.9 1079.0,1451.0 1084.3,1451.5 1107.8,1454.8 1118.9,1455.4 1125.1,1455.3 1131.8,1454.8 1158.7,1451.6 1165.0,1451.3 1171.2,1451.3 1181.8,1452.3 1202.9,1455.8 1208.2,1456.2 1213.5,1456.3 1218.7,1455.8 1224.0,1455.0 1239.4,1451.2 1244.7,1450.1 1249.5,1449.6 1253.8,1449.5 1259.1,1449.9 1264.4,1451.1 1280.2,1456.4 1285.0,1457.7 1289.8,1458.5 1294.1,1458.7 1298.9,1458.1 1304.2,1456.6 1309.0,1454.7 1320.0,1449.5 1324.9,1447.7 1329.2,1446.7 1333.5,1446.4 1335.9,1446.7 1338.8,1447.2 1344.1,1449.2 1348.9,1451.8 1359.4,1458.3 1364.2,1460.8 1368.5,1462.1 1372.9,1462.6 1377.2,1461.9 1382.0,1459.9 1387.3,1456.4 1397.8,1447.6 1402.6,1444.2 1405.0,1442.9 1407.4,1441.9 1409.8,1441.3 1412.2,1441.2 1414.6,1441.5 1417.5,1442.4 1419.9,1443.7 1422.8,1445.9 1428.1,1451.0 1438.6,1462.9 1441.5,1465.7 1443.9,1467.6 1446.3,1469.1 1448.2,1469.9 1450.2,1470.3 1452.1,1470.4 1454.5,1469.8 1457.4,1468.3 1459.8,1466.4 1462.6,1463.3 1467.9,1455.9 1478.5,1438.6 1480.9,1435.2 1483.3,1432.3 1485.7,1430.0 1487.6,1428.8 1489.5,1428.1 1491.5,1428.0 1493.9,1428.7 1496.3,1430.4 1498.7,1433.1 1501.1,1436.7 1503.9,1442.2 1506.8,1448.8 1517.9,1478.6 1522.7,1489.8 1525.1,1494.1 1527.5,1497.1 1528.9,1498.3 1529.9,1498.8 1531.3,1499.0 1532.3,1498.8 1534.2,1497.5 1535.6,1495.8 1537.5,1492.4 1539.0,1489.0 1542.3,1478.3 1545.7,1463.8 1549.5,1442.8 1553.4,1417.9 1567.8,1309.7 1571.2,1286.5 1574.0,1269.0 1577.4,1251.9 1580.8,1239.2 1582.7,1234.2 1584.1,1231.5 1585.6,1229.8 1587.0,1229.1 1588.4,1229.4 1589.9,1230.8 1591.3,1233.1 1592.8,1236.4 1595.6,1245.8 1598.5,1258.8 1601.9,1277.8 1605.2,1300.2 1619.6,1411.8 1623.0,1435.7 1626.4,1456.8 1630.2,1476.8 1632.1,1484.8 1634.0,1491.5 1635.5,1495.7 1637.4,1500.0 1639.3,1502.9 1641.2,1504.5 1642.2,1504.9 1643.2,1504.9 1644.1,1504.6 1645.6,1503.6 1647.5,1501.3 1649.9,1497.2 1652.3,1491.7 1654.7,1485.2 1665.7,1450.5 1668.6,1442.2 1671.0,1436.2 1673.9,1430.1 1676.8,1425.7 1678.2,1424.1 1679.7,1422.9 1682.1,1421.9 1684.0,1422.0 1686.4,1423.2 1688.3,1424.8 1690.7,1427.8 1693.1,1431.5 1695.5,1435.9 1706.1,1458.2 1708.9,1463.7 1711.3,1467.8 1714.2,1471.7 1716.6,1474.1 1719.5,1476.0 1721.9,1476.5 1723.8,1476.3 1725.8,1475.6 1727.7,1474.4 1730.1,1472.2 1732.5,1469.4 1734.9,1466.1 1745.9,1448.3 1750.7,1441.7 1753.6,1438.6 1756.0,1436.7 1758.4,1435.5 1760.8,1435.0 1762.7,1435.0 1765.1,1435.7 1767.0,1436.8 1769.4,1438.6 1774.2,1443.6 1785.3,1458.1 1790.1,1463.5 1793.0,1466.0 1795.4,1467.5 1797.8,1468.5 1800.2,1468.9 1802.1,1468.7 1804.5,1468.1 1806.4,1467.2 1808.8,1465.6 1813.6,1461.3 1824.2,1449.4 1829.0,1444.7 1831.4,1442.9 1833.8,1441.5 1836.2,1440.5 1838.6,1440.1 1840.5,1440.1 1842.9,1440.5 1845.3,1441.4 1847.7,1442.7 1852.5,1446.5 1863.5,1457.3 1868.3,1461.3 1871.2,1463.2 1873.6,1464.3 1876.0,1465.0 1878.4,1465.2 1880.3,1465.1 1882.8,1464.6 1887.1,1462.6 1891.9,1459.2 1902.4,1449.9 1906.8,1446.6 1911.6,1444.0 1914.0,1443.2 1916.4,1442.8 1918.3,1442.8 1920.7,1443.1 1923.1,1443.8 1925.5,1444.8 1930.8,1448.1 1941.3,1456.5 1946.1,1459.8 1949.0,1461.3 1951.4,1462.3 1953.8,1462.9 1956.2,1463.1 1960.5,1462.6 1965.3,1460.8 1970.1,1457.9 1979.7,1450.9 1984.1,1448.1 1988.9,1445.7 1993.2,1444.6 1995.6,1444.5 1998.0,1444.7 2000.4,1445.2 2003.3,1446.2 2008.5,1448.9 2019.1,1456.0 2023.9,1458.8 2029.2,1460.9 2031.6,1461.5 2034.0,1461.7 2036.4,1461.6 2038.8,1461.2 2044.1,1459.3 2048.9,1456.7 2060.4,1449.6 2063.8,1447.9 2067.1,1446.7 2071.0,1445.8 2074.3,1445.7 2078.2,1446.3 2082.0,1447.5" stroke="#f00" stroke-width="4"/>
<path d="M162.0,1455.5 168.2,1459.4 173.0,1461.6 175.4,1462.2 177.8,1462.5 180.2,1462.5 182.6,1462.2 186.5,1460.9 190.8,1458.6 195.1,1455.6 204.7,1448.2 209.5,1445.2 212.4,1443.9 214.8,1443.2 217.2,1442.9 219.6,1442.9 222.0,1443.3 224.4,1444.2 229.2,1446.8 234.0,1450.6 244.1,1459.6 249.4,1463.4 251.8,1464.6 254.2,1465.5 256.6,1465.9 259.0,1465.8 261.4,1465.2 263.8,1464.3 266.2,1462.8 268.6,1461.0 273.4,1456.5 283.5,1445.6 288.8,1441.1 291.2,1439.6 293.6,1438.6 296.0,1438.2 297.9,1438.2 300.3,1438.8 302.7,1439.9 305.1,1441.5 308.0,1444.2 312.8,1449.8 323.3,1464.1 328.1,1469.3 330.5,1471.2 332.9,1472.4 335.3,1473.0 337.2,1473.0 339.6,1472.3 342.5,1470.5 344.9,1468.2 347.8,1464.6 352.6,1457.0 363.2,1437.7 365.6,1434.0 368.0,1430.7 370.4,1428.2 372.3,1426.8 374.7,1425.8 376.6,1425.8 378.1,1426.2 379.5,1427.0 381.9,1429.1 384.8,1433.1 387.7,1438.4 390.1,1443.8 392.9,1451.1 404.0,1482.2 406.9,1489.2 409.3,1493.9 411.7,1497.5 414.1,1499.7 415.5,1500.3 416.5,1500.3 418.4,1499.5 420.3,1497.6 422.2,1494.4 424.1,1489.9 425.6,1485.7 428.9,1473.2 432.8,1454.5 436.1,1434.6 439.5,1412.1 453.9,1306.3 457.3,1284.7 460.6,1266.3 463.5,1253.6 466.4,1244.2 467.8,1240.9 469.3,1238.4 470.7,1236.9 472.2,1236.4 473.6,1236.8 475.5,1238.9 477.0,1241.5 478.9,1246.5 482.2,1258.8 485.6,1275.5 488.5,1292.6 491.8,1315.2 502.9,1397.4 506.7,1424.4 510.6,1448.4 513.9,1466.3 517.3,1480.7 520.6,1491.2 522.1,1494.5 524.0,1497.9 525.9,1499.9 527.9,1500.8 529.8,1500.5 530.7,1500.0 532.2,1498.7 534.6,1495.5 537.0,1491.0 541.8,1479.1 552.8,1447.7 555.7,1440.6 558.6,1434.7 561.5,1430.1 563.9,1427.4 566.3,1425.8 568.7,1425.2 571.1,1425.7 573.5,1427.1 575.9,1429.4 578.3,1432.5 582.6,1439.5 593.6,1459.9 596.5,1464.5 598.9,1467.7 601.3,1470.2 603.7,1472.1 606.1,1473.3 608.5,1473.6 610.9,1473.3 613.3,1472.2 615.7,1470.5 618.1,1468.2 622.4,1463.0 633.5,1447.7 636.4,1444.3 638.8,1441.9 641.2,1440.0 643.6,1438.6 646.0,1437.8 647.9,1437.5 650.3,1437.8 652.7,1438.6 655.1,1439.9 657.5,1441.7 662.3,1446.3 673.3,1458.6 678.6,1463.2 681.0,1464.7 683.4,1465.8 685.8,1466.4 687.7,1466.5 690.1,1466.3 692.5,1465.5 694.9,1464.4 697.3,1462.9 702.1,1458.9 712.7,1449.0 718.0,1445.1 720.4,1443.7 722.8,1442.8 725.2,1442.3 727.1,1442.1 729.5,1442.4 731.9,1443.0 736.7,1445.2 741.5,1448.6 752.1,1457.2 757.3,1460.7 762.2,1462.7 766.5,1463.3 768.9,1463.1 771.3,1462.6 773.7,1461.8 776.6,1460.4 781.4,1457.3 791.9,1449.7 797.2,1446.6 801.5,1445.1 805.8,1444.5 808.2,1444.6 810.6,1445.1 815.9,1447.1 820.7,1449.8 831.3,1456.8 836.6,1459.5 841.4,1461.1 845.7,1461.6 850.5,1460.9 855.8,1459.0 860.6,1456.5 870.7,1450.3 875.9,1447.7 880.7,1446.3 885.1,1445.8 889.9,1446.4 895.1,1448.1 899.9,1450.5 910.5,1456.5 915.8,1458.9 920.1,1460.1 924.4,1460.5 929.2,1460.0 934.5,1458.4 939.3,1456.2 949.9,1450.5 955.2,1448.3 960.0,1447.0 964.3,1446.6 969.1,1447.1 974.4,1448.7 979.2,1450.9 989.7,1456.3 995.0,1458.5 999.3,1459.6 1003.7,1459.9 1008.0,1459.6 1012.3,1458.5 1017.6,1456.3 1028.1,1451.1 1032.9,1449.0 1038.2,1447.5 1043.0,1447.0 1047.8,1447.5 1053.1,1448.9 1057.9,1450.9 1068.9,1456.3 1074.2,1458.3 1078.5,1459.3 1082.9,1459.7 1087.2,1459.3 1092.0,1458.0 1096.8,1456.1 1110.7,1449.6 1115.0,1448.2 1119.4,1447.3 1124.6,1447.3 1129.9,1448.3 1135.7,1450.4 1147.2,1455.9 1152.0,1457.8 1157.3,1459.3 1162.1,1459.7 1166.9,1459.2 1172.2,1457.7 1177.0,1455.6 1188.0,1450.3 1193.3,1448.3 1198.1,1447.3 1202.9,1447.1 1207.7,1447.8 1212.5,1449.4 1216.8,1451.3 1226.9,1456.3 1232.2,1458.4 1237.5,1459.7 1242.3,1459.9 1247.1,1459.2 1251.9,1457.6 1256.2,1455.7 1266.8,1450.3 1272.0,1448.1 1276.8,1446.9 1281.6,1446.7 1286.4,1447.4 1291.2,1449.0 1296.0,1451.2 1306.1,1456.6 1311.4,1458.9 1316.2,1460.2 1321.0,1460.5 1325.8,1459.7 1330.6,1458.1 1335.4,1455.8 1346.0,1449.8 1351.3,1447.5 1356.1,1446.2 1360.4,1445.9 1365.2,1446.6 1370.5,1448.6 1375.3,1451.1 1385.3,1457.2 1390.6,1459.7 1395.4,1461.1 1399.7,1461.5 1404.6,1460.7 1409.8,1458.7 1414.6,1455.9 1425.2,1449.0 1430.0,1446.5 1434.8,1445.0 1439.1,1444.6 1441.5,1444.8 1443.9,1445.4 1449.2,1447.6 1454.0,1450.6 1464.6,1458.2 1469.8,1461.2 1474.2,1462.7 1478.5,1463.2 1480.9,1463.0 1483.3,1462.4 1485.7,1461.4 1488.6,1459.9 1493.4,1456.6 1504.4,1447.7 1509.2,1444.6 1513.5,1442.8 1515.9,1442.4 1517.9,1442.3 1519.8,1442.5 1522.2,1443.0 1526.5,1445.0 1531.8,1448.9 1542.8,1459.1 1547.1,1462.6 1550.0,1464.4 1552.4,1465.5 1554.8,1466.2 1557.2,1466.4 1559.6,1466.1 1562.5,1465.1 1564.9,1463.8 1567.8,1461.7 1572.6,1457.2 1583.6,1445.1 1588.4,1440.8 1590.8,1439.3 1592.8,1438.5 1595.2,1437.8 1597.1,1437.8 1599.5,1438.2 1602.4,1439.4 1604.8,1441.1 1607.6,1443.7 1612.4,1449.4 1623.0,1463.9 1625.9,1467.3 1628.3,1469.7 1630.7,1471.5 1632.6,1472.6 1634.5,1473.2 1636.4,1473.4 1638.8,1472.9 1641.2,1471.7 1643.7,1469.8 1646.1,1467.2 1648.5,1463.9 1651.3,1459.4 1661.9,1440.0 1666.7,1432.4 1669.1,1429.4 1671.5,1427.2 1673.9,1425.9 1676.3,1425.6 1678.7,1426.3 1681.1,1428.0 1683.5,1430.8 1686.4,1435.4 1689.3,1441.4 1692.1,1448.4 1702.7,1478.2 1707.5,1490.0 1709.9,1494.5 1712.3,1497.9 1714.7,1499.8 1716.1,1500.2 1717.1,1500.1 1719.0,1499.1 1720.5,1497.5 1722.4,1494.4 1723.8,1491.3 1727.2,1481.1 1730.6,1467.2 1734.4,1447.1 1738.2,1423.1 1752.6,1318.7 1756.0,1296.3 1758.9,1279.3 1762.2,1262.6 1765.6,1250.1 1767.5,1245.0 1769.0,1242.3 1770.9,1240.0 1772.3,1239.5 1773.8,1239.8 1775.2,1241.1 1776.6,1243.4 1778.1,1246.6 1781.0,1255.5 1783.8,1267.8 1787.2,1285.7 1790.6,1306.7 1805.0,1411.0 1808.3,1433.3 1811.7,1453.1 1815.5,1471.9 1817.5,1479.5 1819.4,1486.0 1820.8,1490.0 1822.7,1494.2 1824.7,1497.2 1826.6,1499.0 1828.5,1499.7 1829.5,1499.6 1830.9,1498.9 1833.3,1496.6 1835.7,1493.0 1838.1,1488.2 1840.5,1482.5 1851.5,1451.8 1854.4,1444.5 1856.8,1439.1 1859.7,1433.8 1862.6,1429.7 1865.5,1427.2 1867.9,1426.2 1869.8,1426.2 1872.2,1427.0 1874.1,1428.3 1876.5,1430.7 1878.9,1433.8 1881.3,1437.5 1892.4,1457.3 1897.2,1464.7 1900.0,1468.2 1902.4,1470.4 1905.3,1472.1 1907.7,1472.7 1909.6,1472.7 1912.0,1472.1 1914.0,1471.1 1916.4,1469.3 1918.8,1467.0 1921.6,1463.7 1932.2,1449.6 1937.0,1444.1 1939.9,1441.5 1942.3,1440.0 1944.7,1438.9 1947.1,1438.4 1949.0,1438.4 1951.4,1438.9 1953.8,1439.9 1956.2,1441.4 1961.0,1445.5 1971.6,1456.7 1975.9,1460.7 1978.3,1462.5 1980.7,1464.0 1983.1,1465.0 1985.5,1465.6 1987.9,1465.7 1990.3,1465.4 1992.7,1464.6 1995.1,1463.5 2000.4,1459.8 2010.9,1450.5 2015.7,1446.8 2020.5,1444.2 2022.9,1443.4 2025.3,1443.0 2027.7,1443.0 2030.1,1443.4 2032.5,1444.1 2035.4,1445.4 2040.2,1448.4 2049.8,1455.7 2053.7,1458.4 2058.0,1460.7 2061.8,1462.0 2066.2,1462.4 2068.6,1462.2 2071.0,1461.7 2075.8,1459.8 2082.0,1456.0" stroke="#00f" stroke-width="4" stroke-dasharray="44 25"/>
</g>
<rect x="162" y="1202.2" width="1920" height="308.0" fill="none" stroke="#262626" stroke-width="4" stroke-linejoin="miter"/>
<path d="M162.0,1510.2 v-21 M162.0,1202.2 v21 M402.0,1510.2 v-21 M402.0,1202.2 v21 M642.0,1510.2 v-21 M642.0,1202.2 v21 M882.0,1510.2 v-21 M882.0,1202.2 v21 M1122.0,1510.2 v-21 M1122.0,1202.2 v21 M1362.0,1510.2 v-21 M1362.0,1202.2 v21 M1602.0,1510.2 v-21 M1602.0,1202.2 v21 M1842.0,1510.2 v-21 M1842.0,1202.2 v21 M2082.0,1510.2 v-21 M2082.0,1202.2 v21 M162,1453.4 h21 M2082,1453.4 h-21 M162,1352.0 h21 M2082,1352.0 h-21 M162,1250.6 h21 M2082,1250.6 h-21" stroke="#262626" stroke-width="4" fill="none"/>
<text x="151.7" y="1572.0" font-family="Liberation Sans, Arial, Helvetica, sans-serif" font-size="50" fill="#262626" text-anchor="middle">0.92</text>
<text x="391.7" y="1572.0" font-family="Liberation Sans, Arial, Helvetica, sans-serif" font-size="50" fill="#262626" text-anchor="middle">0.94</text>
<text x="631.7" y="1572.0" font-family="Liberation Sans, Arial, Helvetica, sans-serif" font-size="50" fill="#262626" text-anchor="middle">0.96</text>
<text x="871.7" y="1572.0" font-family="Liberation Sans, Arial, Helvetica, sans-serif" font-size="50" fill="#262626" text-anchor="middle">0.98</text>
<text x="1111.7" y="1572.0" font-family="Liberation Sans, Arial, Helvetica, sans-serif" font-size="50" fill="#262626" text-anchor="middle">1</text>
<text x="1351.7" y="1572.0" font-family="Liberation Sans, Arial, Helvetica, sans-serif" font-size="50" fill="#262626" text-anchor="middle">1.02</text>
<text x="1591.7" y="1572.0" font-family="Liberation Sans, Arial, Helvetica, sans-serif" font-size="50" fill="#262626" text-anchor="middle">1.04</text>
<text x="1831.7" y="1572.0" font-family="Liberation Sans, Arial, Helvetica, sans-serif" font-size="50" fill="#262626" text-anchor="middle">1.06</text>
<text x="2071.7" y="1572.0" font-family="Liberation Sans, Arial, Helvetica, sans-serif" font-size="50" fill="#262626" text-anchor="middle">1.08</text>
<text x="141.8" y="1471.3" font-family="Liberation Sans, Arial, Helvetica, sans-serif" font-size="50" fill="#262626" text-anchor="end">0</text>
<text x="141.8" y="1369.9" font-family="Liberation Sans, Arial, Helvetica, sans-serif" font-size="50" fill="#262626" text-anchor="end">5</text>
<text x="141.8" y="1268.5" font-family="Liberation Sans, Arial, Helvetica, sans-serif" font-size="50" fill="#262626" text-anchor="end">10</text>
<text x="162.7" y="1190.7" font-family="DejaVu Sans, sans-serif" font-size="46" fill="#262626">×</text>
<text x="205" y="1189.6" font-family="Liberation Sans, Arial, Helvetica, sans-serif" font-size="50" fill="#262626">10</text>
<text transform="translate(270.4,1168.2) scale(0.86,1)" font-family="Liberation Sans, Arial, Helvetica, sans-serif" font-size="43" fill="#262626">-3</text>
<text x="1118" y="1175.2" font-family="Liberation Sans, Arial, Helvetica, sans-serif" font-size="56" font-weight="bold" fill="#000" text-anchor="middle">c</text>
<g transform="translate(59,1437.1) rotate(-90)" fill="#262626"><text x="0" y="0" font-family="Liberation Sans, Arial, Helvetica, sans-serif" font-size="55">Im[</text><text x="98.8" y="0" font-family="Liberation Serif, Times New Roman, serif" font-style="italic" font-size="55">χ</text><text x="131.9" y="0" font-family="Liberation Sans, Arial, Helvetica, sans-serif" font-size="55">]</text></g>
<path d="M457.9,1741 h178" stroke="#000" stroke-width="4" fill="none" stroke-dasharray="35 12 10 12"/>
<text transform="translate(647.5,1750.8) scale(0.935,1)" font-family="Liberation Serif, Times New Roman, serif" font-size="50" fill="#000">Ω</text>
<text x="682.4" y="1772.3" font-family="Liberation Sans, Arial, Helvetica, sans-serif" font-size="38" fill="#000">c</text>
<text transform="translate(703.3,1753.0) scale(1,0.8)" font-family="Liberation Sans, Arial, Helvetica, sans-serif" font-size="47" fill="#000">=</text>
<text x="730.7" y="1751.8" font-family="Liberation Sans, Arial, Helvetica, sans-serif" font-size="47" fill="#000">30THz</text>
<path d="M925.9,1741 h178" stroke="#f00" stroke-width="4" fill="none"/>
<text transform="translate(1115.2,1750.8) scale(0.935,1)" font-family="Liberation Serif, Times New Roman, serif" font-size="50" fill="#000">Ω</text>
<text x="1150.1" y="1772.3" font-family="Liberation Sans, Arial, Helvetica, sans-serif" font-size="38" fill="#000">c</text>
<text transform="translate(1171.0,1753.0) scale(1,0.8)" font-family="Liberation Sans, Arial, Helvetica, sans-serif" font-size="47" fill="#000">=</text>
<text x="1198.4" y="1751.8" font-family="Liberation Sans, Arial, Helvetica, sans-serif" font-size="47" fill="#000">50THz</text>
<path d="M1395.0,1741 h178" stroke="#00f" stroke-width="4" fill="none" stroke-dasharray="44 25"/>
<text transform="translate(1583.8,1750.8) scale(0.935,1)" font-family="Liberation Serif, Times New Roman, serif" font-size="50" fill="#000">Ω</text>
<text x="1618.7" y="1772.3" font-family="Liberation Sans, Arial, Helvetica, sans-serif" font-size="38" fill="#000">c</text>
<text transform="translate(1639.6,1753.0) scale(1,0.8)" font-family="Liberation Sans, Arial, Helvetica, sans-serif" font-size="47" fill="#000">=</text>
<text x="1667.0" y="1751.8" font-family="Liberation Sans, Arial, Helvetica, sans-serif" font-size="47" fill="#000">70THz</text>
<g fill="#262626"><text x="1033" y="1636" font-family="Liberation Serif, Times New Roman, serif" font-style="italic" font-size="55">ω</text><text x="1068.5" y="1662" font-family="Liberation Sans, Arial, Helvetica, sans-serif" font-size="45">p</text><text x="1100" y="1636" font-family="Liberation Sans, Arial, Helvetica, sans-serif" font-size="55">/</text><text x="1119" y="1636" font-family="Liberation Serif, Times New Roman, serif" font-style="italic" font-size="55">ω</text><text x="1154.5" y="1662" font-family="Liberation Sans, Arial, Helvetica, sans-serif" font-size="45">12</text></g>
</svg>
</body></html>
